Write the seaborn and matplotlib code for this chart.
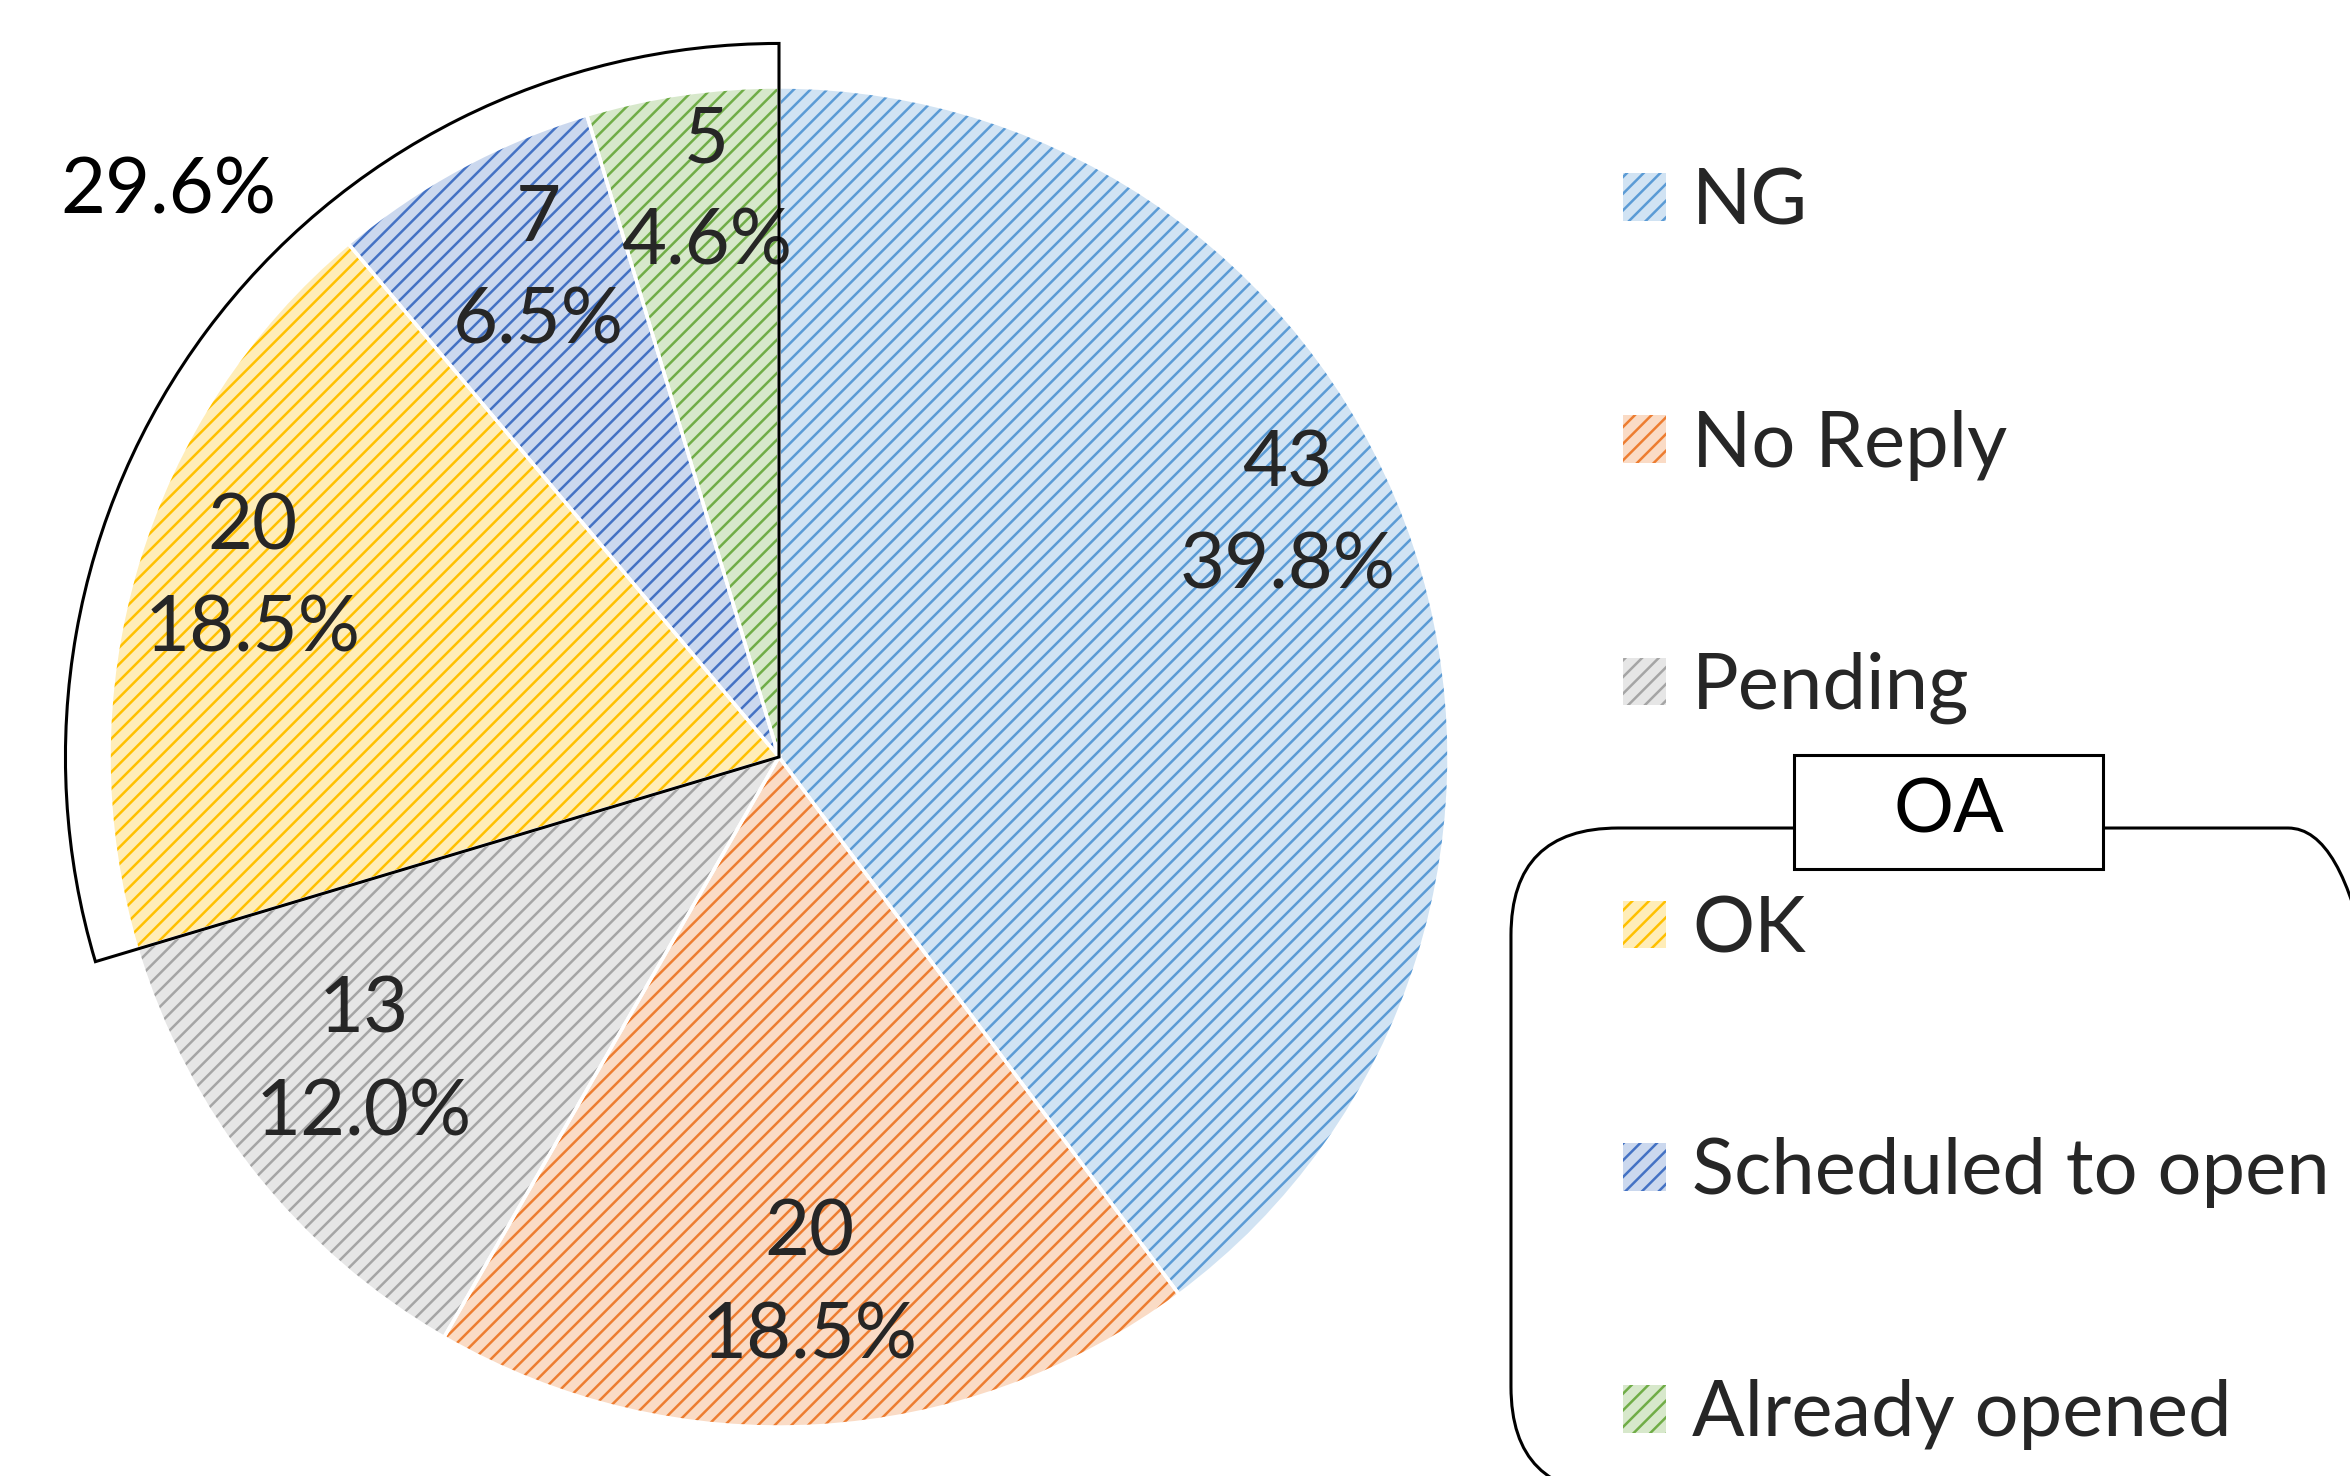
import matplotlib
matplotlib.use("Agg")
import matplotlib.pyplot as plt
from matplotlib.patches import Wedge, Patch, FancyBboxPatch, Rectangle
import matplotlib.colors as mcolors
import numpy as np
import seaborn as sns

# data
labels = ["NG", "No Reply", "Pending", "OK", "Scheduled to open", "Already opened"]
counts = [43, 20, 13, 20, 7, 5]
oa_labels = ["OK", "Scheduled to open", "Already opened"]
base_colors = ["#5B9BD5", "#ED7D31", "#A5A5A5", "#FFC000", "#4472C4", "#70AD47"]

# label placement tweaks (radius, angle shift in degrees)
label_r = [0.84, 0.79, 0.77, 0.83, 0.81, 0.85]
label_shift = [7, 0, -2, -2, -2, -1]

sns.set_style("white")
plt.rcParams['font.family'] = ['Lato', 'DejaVu Sans']
plt.rcParams['hatch.linewidth'] = 1.8

total = sum(counts)
light = [tuple(0.72 + 0.28 * np.array(mcolors.to_rgb(c))) for c in base_colors]

fig = plt.figure(figsize=(23.5, 14.76), dpi=100)
ax = fig.add_axes([0, 0, 1, 1])

# base fill
ax.pie(counts, colors=light, startangle=90, counterclock=False,
       wedgeprops=dict(linewidth=0))

# hatch layer
hw, _ = ax.pie(counts, startangle=90, counterclock=False,
               wedgeprops=dict(facecolor="none", linewidth=0))
for w, c in zip(hw, base_colors):
    w.set_edgecolor(c)
    w.set_linewidth(0)
    w.set_hatch("//")

# white separators + labels
def fmt(p):
    n = int(round(p * total / 100))
    return f"{n}\n{p:.1f}%"

ew, _, autot = ax.pie(counts, startangle=90, counterclock=False, autopct=fmt,
                      pctdistance=0.8,
                      wedgeprops=dict(facecolor="none", edgecolor="white", linewidth=2.5),
                      textprops=dict(fontsize=56, color="#262626", linespacing=1.55))
for w, t, r, s in zip(ew, autot, label_r, label_shift):
    a = np.deg2rad((w.theta1 + w.theta2) / 2 + s)
    t.set_position((r * np.cos(a), r * np.sin(a)))

# outline around the OA group
oa_sum = sum(counts[labels.index(l)] for l in oa_labels)
ax.add_patch(Wedge((0, 0), 1.065, 90, 90 + 360 * oa_sum / total, fill=False,
                   edgecolor="black", linewidth=2.2, zorder=5))
ax.text(-0.912, 0.843, f"{100 * oa_sum / total:.1f}%", fontsize=56,
        color="black", ha="center", va="center")

# OA group box
ax.add_patch(FancyBboxPatch((1.0925, -1.100), 1.32, 0.994,
                            boxstyle="round,pad=0,rounding_size=0.16",
                            fill=False, edgecolor="black", linewidth=2.2, zorder=3))
ax.add_patch(Rectangle((1.515, -0.167), 0.461, 0.170, facecolor="white",
                       edgecolor="black", linewidth=2.2, zorder=4))
ax.text(1.7455, -0.080, "OA", fontsize=54, color="black",
        ha="center", va="center", zorder=6)

ax.set_xlim(-779 / 670, (2350 - 779) / 670)
ax.set_ylim(-(1476 - 757) / 670, 757 / 670)
ax.set_aspect("equal")
ax.axis("off")

handles = [Patch(facecolor=l, edgecolor=c, hatch="//", linewidth=0)
           for l, c in zip(light, base_colors)]
fig.legend(handles, labels, loc="upper left", bbox_to_anchor=(0.6906, 0.8865),
           frameon=False, fontsize=56, handlelength=0.56, handleheight=0.56,
           handletextpad=0.33, labelspacing=2.2, borderpad=0, borderaxespad=0,
           labelcolor="#262626")

fig.savefig("out.png", dpi=100)
